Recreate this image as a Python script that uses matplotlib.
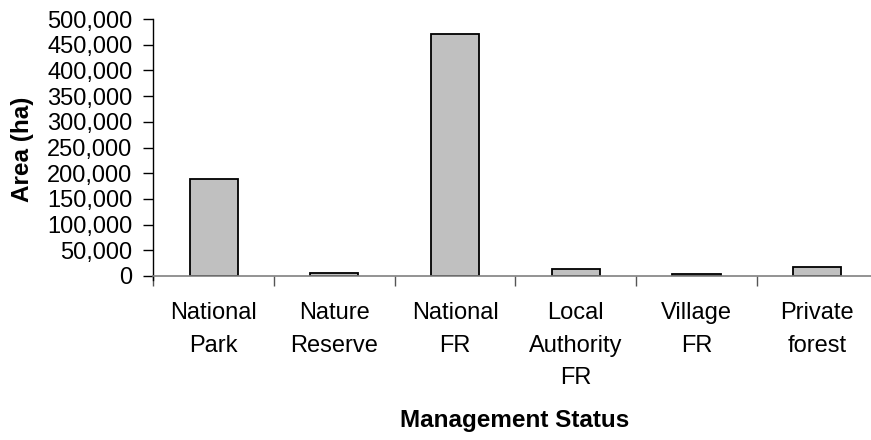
import numpy as np
import matplotlib
matplotlib.use("Agg")
import matplotlib.pyplot as plt
from matplotlib.ticker import FuncFormatter

# area by management status
categories = ["National\nPark", "Nature\nReserve", "National\nFR",
              "Local\nAuthority\nFR", "Village\nFR", "Private\nforest"]
area_ha = [188000, 6500, 471000, 14500, 3800, 17500]
y_ticks = np.arange(0, 500001, 50000)

plt.rcParams['font.family'] = ['Liberation Sans', 'DejaVu Sans']

fig = plt.figure(figsize=(8.71, 4.40), dpi=100)
# plot area runs off the right edge of the picture, like the original
ax = fig.add_axes([153.3/871, (440-276)/440, 724.2/871, 257/440])

x = np.arange(len(categories))
ax.bar(x, area_ha, width=0.4, color='#C0C0C0', edgecolor='black', linewidth=1.3, zorder=2)

ax.set_xlim(-0.5, len(categories) - 0.5)
ax.set_ylim(0, 500000)
ax.set_yticks(y_ticks)
ax.yaxis.set_major_formatter(FuncFormatter(lambda v, p: f"{int(v):,}"))

ax.set_xticks(x)
ax.set_xticklabels(categories, fontsize=17, linespacing=1.62, va='top')
ax.set_xticks(np.arange(-0.5, len(categories)), minor=True)
ax.tick_params(axis='x', which='major', length=0, pad=19)
ax.tick_params(axis='x', which='minor', length=7, width=1, color='#555555', direction='out')
ax.tick_params(axis='y', length=7, width=1, direction='out', labelsize=17, pad=8)

for s in ['top', 'right']:
    ax.spines[s].set_visible(False)
ax.spines['bottom'].set_color('#808080')
ax.spines['bottom'].set_linewidth(1.2)
ax.spines['left'].set_linewidth(1.0)
ax.spines['left'].set_bounds(-7000, 500000)

fig.text(23/871, 1 - 149/440, "Area (ha)", rotation=90, ha='center', va='center',
         fontsize=17.5, fontweight='bold')
fig.text(515/871, 1 - 420/440, "Management Status", ha='center', va='center',
         fontsize=17.5, fontweight='bold')

fig.savefig("out.png", dpi=100)
